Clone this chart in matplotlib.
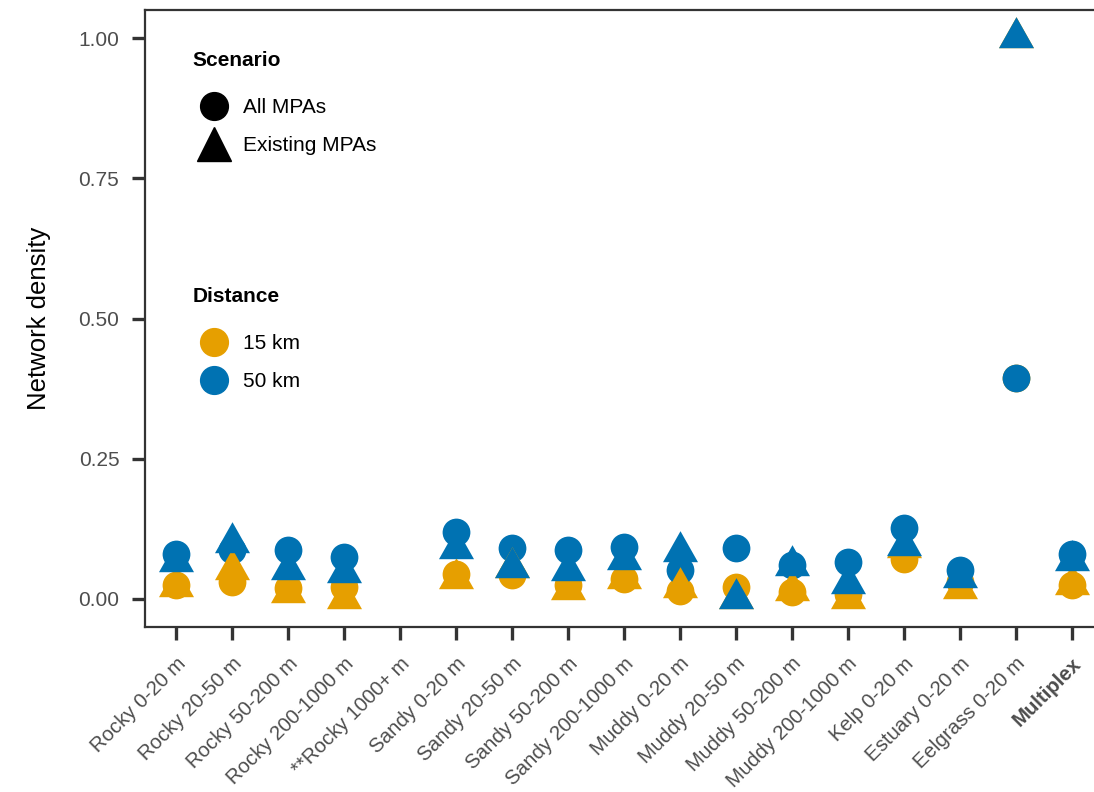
import matplotlib
matplotlib.use("Agg")
import matplotlib.pyplot as plt
from matplotlib.lines import Line2D
from matplotlib.path import Path

plt.rcParams['font.family'] = ['Liberation Sans', 'DejaVu Sans']

habitats = ["Rocky 0-20 m", "Rocky 20-50 m", "Rocky 50-200 m", "Rocky 200-1000 m",
            "**Rocky 1000+ m", "Sandy 0-20 m", "Sandy 20-50 m", "Sandy 50-200 m",
            "Sandy 200-1000 m", "Muddy 0-20 m", "Muddy 20-50 m", "Muddy 50-200 m",
            "Muddy 200-1000 m", "Kelp 0-20 m", "Estuary 0-20 m", "Eelgrass 0-20 m",
            "Multiplex"]

# None = no value for that habitat
all_15 = [0.024, 0.031, 0.020, 0.022, None, 0.045, 0.043, 0.025, 0.036, 0.015,
          0.022, 0.013, 0.008, 0.071, 0.030, 0.394, 0.024]
all_50 = [0.081, 0.088, 0.087, 0.075, None, 0.120, 0.090, 0.088, 0.093, 0.052,
          0.090, 0.060, 0.066, 0.126, 0.051, 0.394, 0.080]
exist_15 = [0.022, 0.052, 0.011, 0.000, None, 0.035, 0.055, 0.016, 0.035, 0.019,
            0.000, 0.014, 0.000, 0.090, 0.018, 1.000, 0.025]
exist_50 = [0.066, 0.099, 0.052, 0.047, None, 0.089, 0.055, 0.049, 0.070, 0.083,
            0.000, 0.059, 0.026, 0.094, 0.037, 1.000, 0.068]

col_15 = "#E69F00"
col_50 = "#0072B2"

# triangle centred on its centroid, like the ggplot shape
tri = Path([(0, 21.3), (-17.5, -9.7), (17.5, -9.7), (0, 21.3)], closed=True)


def pts(vals):
    xs = [i for i, v in enumerate(vals) if v is not None]
    ys = [v for v in vals if v is not None]
    return xs, ys


fig = plt.figure(figsize=(10.94, 7.92), dpi=100)
ax = fig.add_axes([145 / 1094, 165 / 792, 957.6 / 1094, 617 / 792])

circ_s = 20 ** 2
tri_s = 30.7 ** 2
for vals, c in [(all_15, col_15), (all_50, col_50)]:
    x, y = pts(vals)
    ax.scatter(x, y, s=circ_s, marker='o', color=c, linewidths=0, zorder=3)
for vals, c in [(exist_15, col_15), (exist_50, col_50)]:
    x, y = pts(vals)
    ax.scatter(x, y, s=tri_s, marker=tri, color=c, linewidths=0, zorder=3)

ax.set_xlim(-0.55, 16.55)
ax.set_ylim(-0.05, 1.05)
ax.set_yticks([0, 0.25, 0.5, 0.75, 1.0])
ax.set_yticklabels(["0.00", "0.25", "0.50", "0.75", "1.00"])
ax.set_xticks(range(len(habitats)))
ax.set_xticklabels(habitats, rotation=45, ha='right', va='top', rotation_mode='anchor')
for lab in ax.get_xticklabels():
    if lab.get_text() == "Multiplex":
        lab.set_fontweight('bold')

for sp in ax.spines.values():
    sp.set_linewidth(1.6)
    sp.set_color('#333333')
ax.tick_params(axis='both', colors='#333333', width=2.4, length=9.5,
               labelcolor='#4D4D4D', labelsize=15)
ax.tick_params(axis='x', labelsize=14.7, pad=10)
ax.tick_params(axis='y', pad=9)
ax.set_ylabel("Network density", fontsize=18.5, labelpad=20)

fs = 15
leg1_h = [Line2D([], [], marker='o', color='black', linestyle='', markersize=20),
          Line2D([], [], marker='^', color='black', linestyle='', markersize=24)]
leg1 = ax.legend(leg1_h, ["All MPAs", "Existing MPAs"], title="Scenario",
                 loc='upper left', bbox_to_anchor=(0.0413, 0.947), frameon=False,
                 fontsize=fs, title_fontproperties={'weight': 'bold', 'size': fs},
                 labelspacing=0.93, handletextpad=0.4, borderaxespad=0)
leg1._legend_box.align = "left"
leg1._legend_box.sep = 20
ax.add_artist(leg1)

leg2_h = [Line2D([], [], marker='o', color=col_15, linestyle='', markersize=20),
          Line2D([], [], marker='o', color=col_50, linestyle='', markersize=20)]
leg2 = ax.legend(leg2_h, ["15 km", "50 km"], title="Distance",
                 loc='upper left', bbox_to_anchor=(0.0413, 0.564), frameon=False,
                 fontsize=fs, title_fontproperties={'weight': 'bold', 'size': fs},
                 labelspacing=0.93, handletextpad=0.4, borderaxespad=0)
leg2._legend_box.align = "left"
leg2._legend_box.sep = 20

fig.savefig("out.png", dpi=100)
